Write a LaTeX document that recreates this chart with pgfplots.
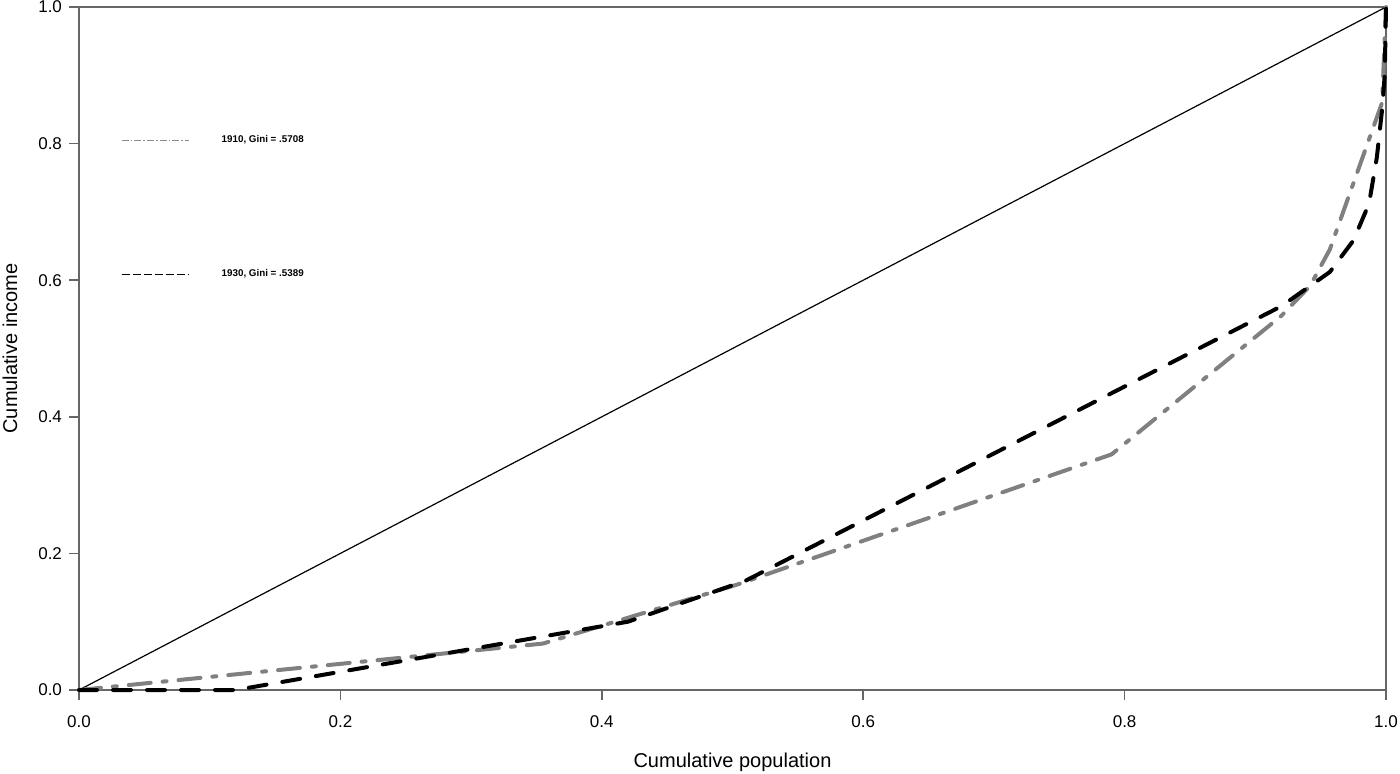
\documentclass[border=0pt]{standalone}
\usepackage{fontspec}
\setmainfont{Liberation Sans}
\usepackage{pgfplots}
\pgfplotsset{compat=1.18}
\definecolor{axgray}{gray}{0.4}
\definecolor{curvegray}{gray}{0.5}
\begin{document}
\begin{tikzpicture}
\begin{axis}[
  name=a,
  scale only axis,
  width=653.5pt, height=341.5pt,
  xmin=0, xmax=1, ymin=0, ymax=1,
  xtick={0,0.2,0.4,0.6,0.8,1},
  ytick={0,0.2,0.4,0.6,0.8,1},
  tick pos=left,
  tick align=outside,
  major tick length=5pt,
  every tick/.style={axgray, line width=0.8pt},
  axis line style={axgray, line width=0.8pt},
  tick label style={font=\fontsize{8.5}{10}\selectfont},
  /pgf/number format/assume math mode=true,
  xticklabel style={yshift=-4.5pt,/pgf/number format/.cd,fixed,fixed zerofill,precision=1},
  yticklabel style={/pgf/number format/.cd,fixed,fixed zerofill,precision=1},
  xlabel={Cumulative population},
  ylabel={Cumulative income},
  label style={font=\fontsize{8.5}{10}\selectfont},
  every axis x label/.style={at={(axis description cs:0.5,-0.1054)},anchor=center},
  every axis y label/.style={at={(axis description cs:-0.0528,0.5)},anchor=center,rotate=90},
  clip=false,
  legend cell align=left,
  legend style={at={(axis cs:0.032,0.815)}, anchor=north west, draw=none, fill=none,
    inner sep=0pt, font=\bfseries\fontsize{4.9}{5.5}\selectfont, row sep=60pt,
    nodes={inner sep=1pt}},
]
\addplot[black, line width=0.6pt, forget plot] coordinates {(0,0) (1,1)};
\addplot[curvegray, line width=2pt, line cap=round, line join=round,
  dash pattern=on 11pt off 6pt on 2pt off 6pt,
  legend image code/.code={\draw[black!45,line width=0.5pt,line cap=butt,dash pattern=on 3.5pt off 1pt on 0.8pt off 1pt] (0pt,0pt) -- (33.5pt,0pt); \path[draw=none,fill=none] (0pt,0pt) -- (49pt,0pt);}]
  coordinates {(0,0) (0.355,0.068) (0.503,0.154) (0.79,0.345) (0.92,0.548) (0.942,0.592) (0.957,0.645) (0.997,0.86) (1,1)};
\addlegendentry{1910, Gini = .5708}
\addplot[black, line width=2pt, line cap=round, line join=round,
  dash pattern=on 9pt off 8pt,
  legend image code/.code={\draw[black,line width=0.5pt,line cap=butt,dash pattern=on 4pt off 1.5pt] (0pt,0pt) -- (33.5pt,0pt); \path[draw=none,fill=none] (0pt,0pt) -- (49pt,0pt);}]
  coordinates {(0,0) (0.12,0) (0.42,0.10) (0.51,0.16) (0.92,0.562) (0.957,0.612) (0.975,0.658) (0.987,0.712) (0.993,0.78) (0.997,0.85) (0.999,0.9) (1,1)};
\addlegendentry{1930, Gini = .5389}
\end{axis}
\pgfresetboundingbox
\useasboundingbox ([xshift=-39.5pt,yshift=-41.5pt]a.south west) rectangle ([xshift=7pt,yshift=3.5pt]a.north east);
\end{tikzpicture}
\end{document}
